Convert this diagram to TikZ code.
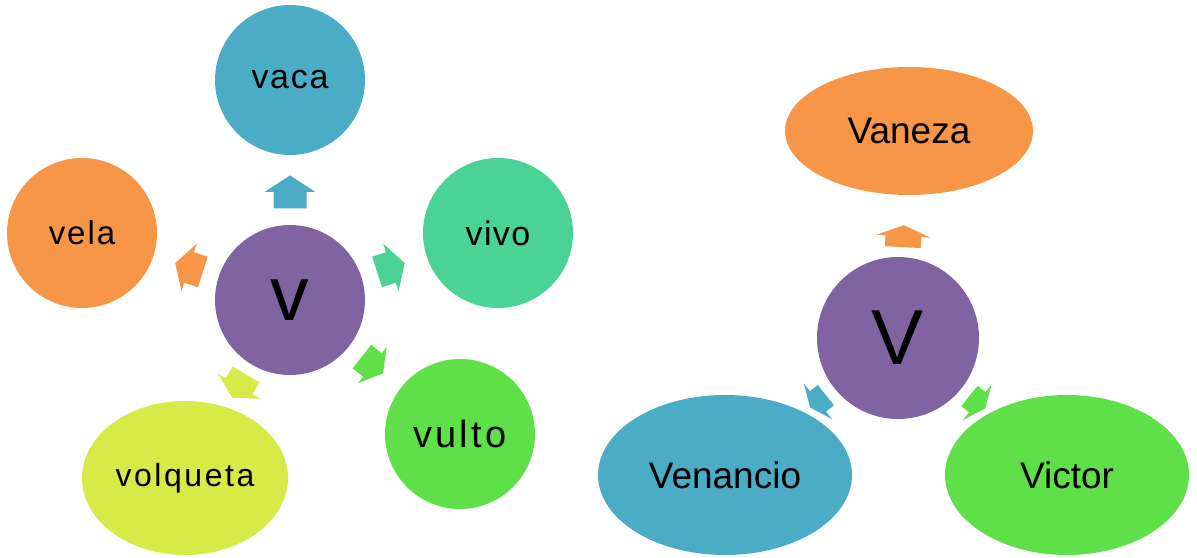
\documentclass[tikz,border=0pt]{standalone}
\usepackage{fontspec}
\setmainfont{Liberation Sans}
\usetikzlibrary{shapes.geometric,calc}
\definecolor{cpurple}{HTML}{8064A2}
\definecolor{cblue}{HTML}{4BACC6}
\definecolor{corange}{HTML}{F79646}
\definecolor{cteal}{HTML}{4BD395}
\definecolor{cgreen}{HTML}{60E048}
\definecolor{cyellow}{HTML}{D6EA48}
\newcommand{\fsz}[2]{\fontsize{#1}{#1}\selectfont\addfontfeature{LetterSpace=#2}}
\tikzset{
  bub/.style={circle, fill=#1, draw=none, inner sep=0pt, minimum size=150pt, text=black},
  ell/.style={ellipse, fill=#1, draw=none, inner sep=0pt, text=black},
  pics/barrow/.style n args={4}{code={
    \fill[#1] (-#2/2,-#4/2) -- (0,-#4/2) -- (0,-#3/2) -- (#2/2,0) -- (0,#3/2) -- (0,#4/2) -- (-#2/2,#4/2) -- cycle;
  }}
}
\begin{document}
\begin{tikzpicture}[x=1pt,y=1pt]
\useasboundingbox (0,0) rectangle (1197,557);
% left diagram
\node[bub=cpurple] (cL) at (290,257) {\fontsize{77}{77}\selectfont v};
\node[bub=cblue] (vaca) at (290,477) {\fsz{34}{5}vaca};
\node[bub=corange] (vela) at (82,324) {\fsz{33}{6}vela};
\node[bub=cteal] (vivo) at (498,324) {\fsz{34}{4}vivo};
\node[bub=cgreen] (vulto) at (460,123) {\fsz{38}{8}vulto};
\node[ell=cyellow, minimum width=206pt, minimum height=154pt] (volqueta) at (185,79) {\fsz{32}{8}volqueta};
% right diagram
\node[bub=cpurple, minimum size=162pt] (cR) at (898,219) {\fontsize{78}{78}\selectfont V};
\node[ell=corange, minimum width=248pt, minimum height=128pt] (vaneza) at (909,426) {\fsz{37}{0}Vaneza};
\node[ell=cblue, minimum width=254pt, minimum height=160pt] (venancio) at (725,82) {\fsz{37}{0}Venancio};
\node[ell=cgreen, minimum width=244pt, minimum height=160pt] (victor) at (1067,82) {\fsz{37}{0}Victor};
% arrows
\foreach \t/\c/\d/\l/\h/\s in {vaca/cblue/108/33/51/33, vela/corange/106/29/50/32, vivo/cteal/106/29/50/32, vulto/cgreen/105/27/46/30, volqueta/cyellow/100/27/50/31}{
  \path let \p1=($(\t)-(cL)$), \n1={atan2(\y1,\x1)} in
    ($(cL)!\d pt!(\t)$) pic[rotate=\n1]{barrow={\c}{\l}{\h}{\s}};
}
\foreach \t/\c/\d/\l/\h/\s in {vaneza/corange/102/22/54/36, venancio/cblue/102/20/46/26, victor/cgreen/102/20/46/26}{
  \path let \p1=($(\t)-(cR)$), \n1={atan2(\y1,\x1)} in
    ($(cR)!\d pt!(\t)$) pic[rotate=\n1]{barrow={\c}{\l}{\h}{\s}};
}
\end{tikzpicture}
\end{document}
